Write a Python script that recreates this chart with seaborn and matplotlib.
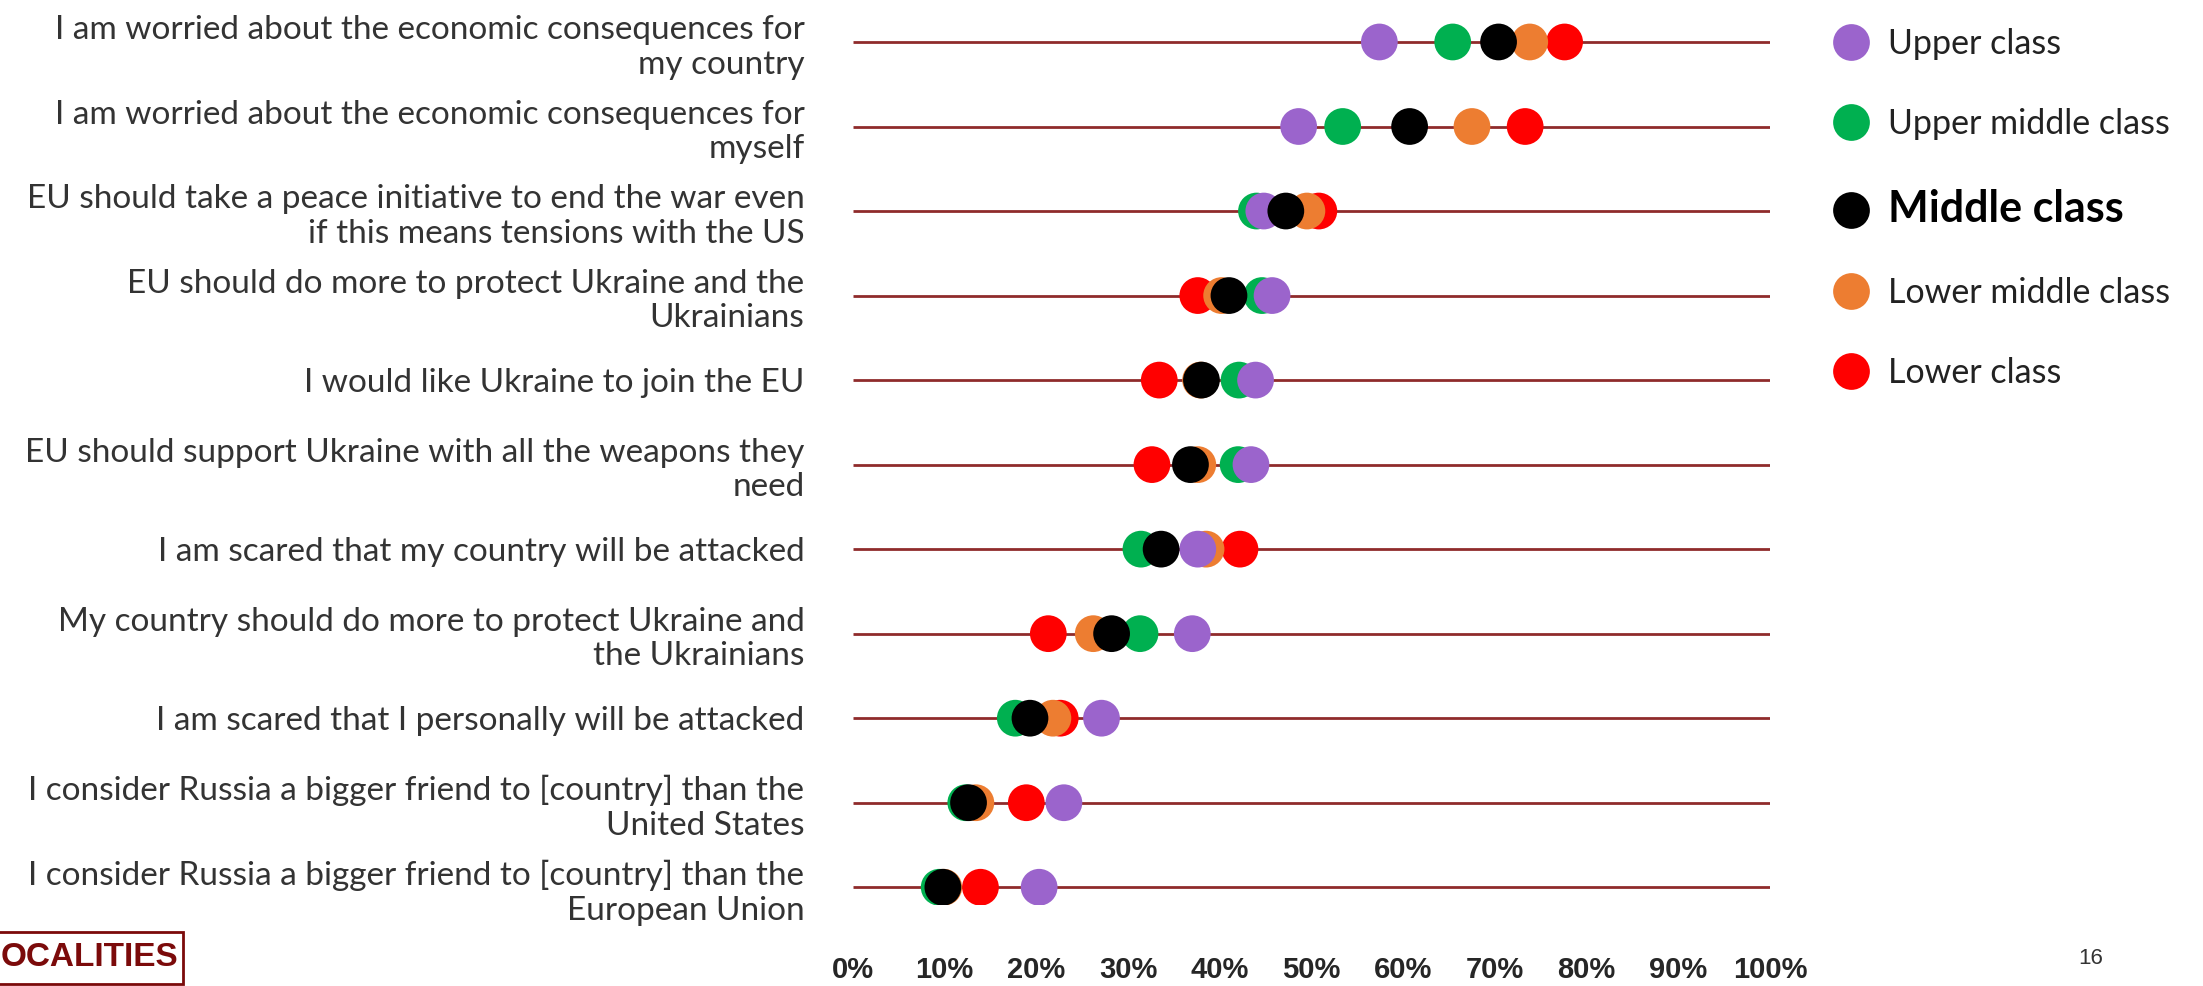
import seaborn as sns
import pandas as pd
import numpy as np
import matplotlib.pyplot as plt
from matplotlib.patches import Rectangle

questions = [
    "I am worried about the economic consequences for\nmy country",
    "I am worried about the economic consequences for\nmyself",
    "EU should take a peace initiative to end the war even\nif this means tensions with the US",
    "EU should do more to protect Ukraine and the\nUkrainians",
    "I would like Ukraine to join the EU",
    "EU should support Ukraine with all the weapons they\nneed",
    "I am scared that my country will be attacked",
    "My country should do more to protect Ukraine and\nthe Ukrainians",
    "I am scared that I personally will be attacked",
    "I consider Russia a bigger friend to [country] than the\nUnited States",
    "I consider Russia a bigger friend to [country] than the\nEuropean Union",
]

# shares in %, one list per class, same order as questions
upper_class = [57.4, 48.6, 44.8, 45.7, 43.9, 43.4, 37.6, 37.0, 27.1, 23.0, 20.3]
upper_middle_class = [65.4, 53.4, 44.0, 44.6, 42.1, 42.0, 31.4, 31.3, 17.7, 12.3, 9.4]
middle_class = [70.4, 60.7, 47.2, 41.0, 38.0, 36.8, 33.6, 28.2, 19.3, 12.6, 9.8]
lower_middle_class = [73.8, 67.5, 49.5, 40.2, 37.9, 37.6, 38.5, 26.2, 21.8, 13.4, 9.9]
lower_class = [77.6, 73.3, 50.8, 37.6, 33.4, 32.6, 42.2, 21.3, 22.6, 18.9, 13.9]

legend_order = ["Upper class", "Upper middle class", "Middle class",
                "Lower middle class", "Lower class"]
colors = {"Upper class": "#9B64CC", "Upper middle class": "#00B050",
          "Middle class": "#000000", "Lower middle class": "#ED7D31",
          "Lower class": "#FF0000"}
tick_pcts = list(range(0, 101, 10))

# drawing order (later ones sit on top)
series = [("Lower class", lower_class), ("Lower middle class", lower_middle_class),
          ("Upper middle class", upper_middle_class), ("Upper class", upper_class),
          ("Middle class", middle_class)]
rows = []
for name, vals in series:
    for q, v in zip(questions, vals):
        rows.append({"question": q, "share": v, "class": name})
df = pd.DataFrame(rows)

sns.set_style("white")
plt.rcParams['font.family'] = ['Lato', 'DejaVu Sans']

fig = plt.figure(figsize=(22.03, 9.86), dpi=100)
ax = fig.add_axes([853 / 2203, 1 - 905 / 986, 917 / 2203, 885 / 986])

ax.hlines(np.arange(len(questions)), 0, 100, color="#8f2b2b", lw=2, zorder=1)
sns.scatterplot(data=df, x="share", y="question", hue="class", hue_order=legend_order,
                palette=colors, s=700, linewidth=0, alpha=1, ax=ax, zorder=3)

ax.set_xlim(0, 100)
ax.set_ylim(10.21, -0.26)
ax.set_xticks(tick_pcts)
ax.set_xticklabels([f"{t}%" for t in tick_pcts], fontsize=21, fontweight="bold",
                   family=["Liberation Sans", "DejaVu Sans"])
ax.tick_params(axis="x", length=0, pad=37)
ax.tick_params(axis="y", length=0, pad=35, labelsize=24, labelcolor="#333333")
ax.set_xlabel("")
ax.set_ylabel("")
for sp in ax.spines.values():
    sp.set_visible(False)

sns.move_legend(ax, "upper left", bbox_to_anchor=(1832 / 2203, 1 - 28 / 986),
                bbox_transform=fig.transFigure, frameon=False, title=None,
                fontsize=24.5, labelspacing=1.42, handlelength=1.1, handletextpad=0.55,
                borderpad=0, borderaxespad=0)
leg = ax.get_legend()
for t in leg.get_texts():
    t.set_color("#222222")
    if t.get_text() == "Middle class":
        t.set_fontweight("bold")
        t.set_fontsize(31)
        t.set_color("black")

# footer: logo fragment and page number
fig.patches.append(Rectangle((-0.01, 2 / 986), 0.01 + 183 / 2203, 52 / 986,
                             transform=fig.transFigure, fill=False,
                             edgecolor="#7b0a0a", lw=2))
fig.text(1 / 2203, 1 - 958 / 986, "OCALITIES", color="#7b0a0a", fontsize=24,
         fontweight="bold", va="center", ha="left", family=["Liberation Sans", "DejaVu Sans"])
fig.text(2091 / 2203, 1 - 958 / 986, "16", color="#333333", fontsize=16,
         va="center", ha="center", family=["Liberation Sans", "DejaVu Sans"])

fig.savefig("out.png", dpi=100)
